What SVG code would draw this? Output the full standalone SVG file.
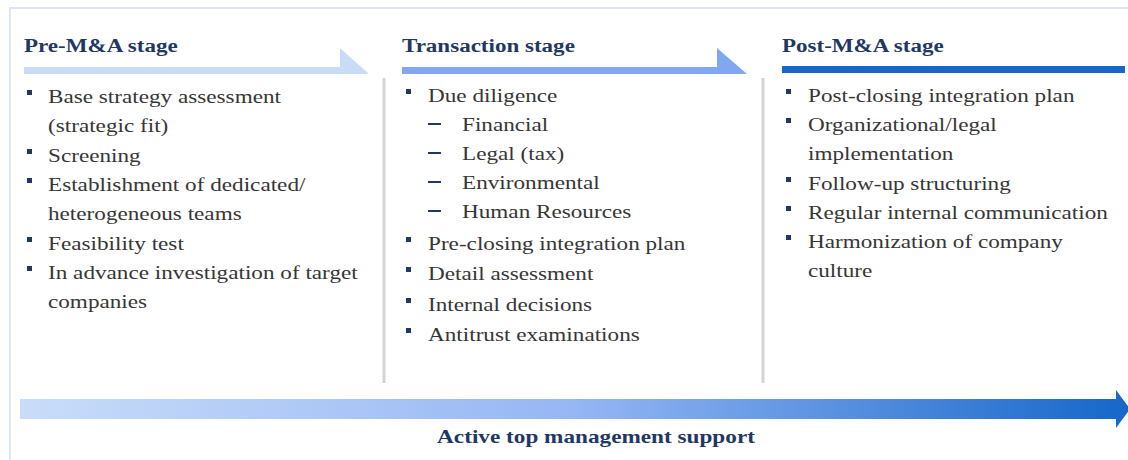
<svg xmlns="http://www.w3.org/2000/svg" width="1128" height="460" viewBox="0 0 1128 460">
<style>
.h{font-family:"Liberation Serif","Times New Roman",serif;font-weight:bold;font-size:18px;fill:#1f3864}
.t{font-family:"Liberation Serif","Times New Roman",serif;font-size:19px;fill:#363636}
.b{fill:#1f3864}
.d{stroke:#1f3864;stroke-width:2}
.sep{stroke:#d4d4d4;stroke-width:3}
</style>
<defs>
<linearGradient id="ga" x1="0" y1="0" x2="1" y2="0">
<stop offset="0" stop-color="#c9ddf9"/>
<stop offset="0.5" stop-color="#96b6f4"/>
<stop offset="1" stop-color="#1467c9"/>
</linearGradient>
</defs>
<rect width="1128" height="460" fill="#ffffff"/>
<rect x="10" y="8" width="1130" height="460" fill="none" stroke="#dbe7f8" stroke-width="2"/>

<g id="pre-stage">
<g transform="translate(24,0) scale(1.28,1)"><text class="h" x="0" y="52">Pre-M&amp;A stage</text></g>
<polygon points="24,67 340,67 340,48 369,74 24,74" fill="#c8dcf8"/>
<g class="b">
<rect x="27" y="90" width="5" height="5"/>
<rect x="27" y="149" width="5" height="5"/>
<rect x="27" y="178" width="5" height="5"/>
<rect x="27" y="237" width="5" height="5"/>
<rect x="27" y="266" width="5" height="5"/>
</g>
<g transform="translate(48,0) scale(1.22,1)">
<text class="t" x="0" y="103">Base strategy assessment</text>
<text class="t" x="0" y="132">(strategic fit)</text>
<text class="t" x="0" y="162">Screening</text>
<text class="t" x="0" y="191">Establishment of dedicated/</text>
<text class="t" x="0" y="220">heterogeneous teams</text>
<text class="t" x="0" y="250">Feasibility test</text>
<text class="t" x="0" y="279">In advance investigation of target</text>
<text class="t" x="0" y="308">companies</text>
</g>
</g>

<g id="transaction-stage">
<g transform="translate(402,0) scale(1.28,1)"><text class="h" x="0" y="52">Transaction stage</text></g>
<polygon points="402,67 717,67 717,48 747,74 402,74" fill="#80a8f1"/>
<g class="b">
<rect x="406" y="89" width="5" height="5"/>
<rect x="406" y="237" width="5" height="5"/>
<rect x="406" y="267" width="5" height="5"/>
<rect x="406" y="298" width="5" height="5"/>
<rect x="406" y="328" width="5" height="5"/>
</g>
<g class="d">
<line x1="428" y1="124" x2="441" y2="124"/>
<line x1="428" y1="153" x2="441" y2="153"/>
<line x1="428" y1="182" x2="441" y2="182"/>
<line x1="428" y1="211" x2="441" y2="211"/>
</g>
<g transform="translate(428,0) scale(1.22,1)">
<text class="t" x="0" y="102">Due diligence</text>
<text class="t" x="0" y="250">Pre-closing integration plan</text>
<text class="t" x="0" y="280">Detail assessment</text>
<text class="t" x="0" y="311">Internal decisions</text>
<text class="t" x="0" y="341">Antitrust examinations</text>
</g>
<g transform="translate(462,0) scale(1.22,1)">
<text class="t" x="0" y="131">Financial</text>
<text class="t" x="0" y="160">Legal (tax)</text>
<text class="t" x="0" y="189">Environmental</text>
<text class="t" x="0" y="218">Human Resources</text>
</g>
</g>

<g id="post-stage">
<g transform="translate(782,0) scale(1.28,1)"><text class="h" x="0" y="52">Post-M&amp;A stage</text></g>
<rect x="782" y="66" width="343" height="7" fill="#1a66c8"/>
<g class="b">
<rect x="786" y="89" width="5" height="5"/>
<rect x="786" y="118" width="5" height="5"/>
<rect x="786" y="177" width="5" height="5"/>
<rect x="786" y="206" width="5" height="5"/>
<rect x="786" y="235" width="5" height="5"/>
</g>
<g transform="translate(808,0) scale(1.22,1)">
<text class="t" x="0" y="102">Post-closing integration plan</text>
<text class="t" x="0" y="131">Organizational/legal</text>
<text class="t" x="0" y="160">implementation</text>
<text class="t" x="0" y="190">Follow-up structuring</text>
<text class="t" x="0" y="219">Regular internal communication</text>
<text class="t" x="0" y="248">Harmonization of company</text>
<text class="t" x="0" y="277">culture</text>
</g>
</g>

<g id="connectors">
<line class="sep" x1="384" y1="78" x2="384" y2="383"/>
<line class="sep" x1="763" y1="78" x2="763" y2="383"/>
</g>

<g id="support-arrow">
<polygon points="20,399 1116,399 1116,390 1130,409 1116,428 1116,419 20,419" fill="url(#ga)"/>
<g transform="translate(596,0) scale(1.29,1)"><text class="h" x="0" y="443" text-anchor="middle">Active top management support</text></g>
</g>
</svg>
